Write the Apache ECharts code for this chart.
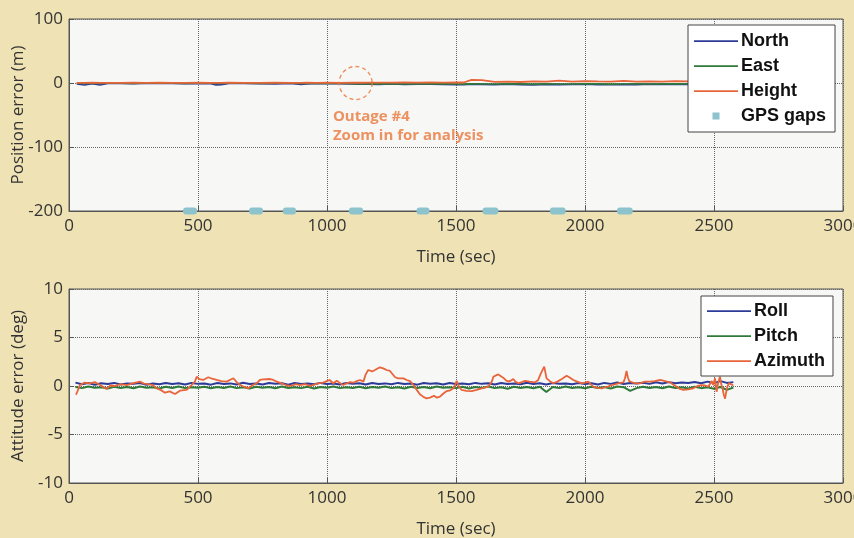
<!DOCTYPE html>
<html>
<head>
<meta charset="utf-8">
<title>Position and attitude error</title>
<script src="https://cdn.jsdelivr.net/npm/echarts@6/dist/echarts.min.js"></script>
<style>
  html, body { margin: 0; padding: 0; background: #efe3b5; }
  #chart { width: 854px; height: 538px; }
</style>
</head>
<body>
<div id="chart"></div>
<script>
// ---- Position error (m) ----
const tPos = [30, 60, 90, 120, 150, 200, 250, 300, 350, 400,
  450, 500, 550, 570, 590, 620, 680, 740, 800, 860,
  900, 920, 960, 1000, 1050, 1100, 1130, 1160, 1200, 1250,
  1300, 1350, 1400, 1450, 1500, 1530, 1560, 1600, 1650, 1700,
  1750, 1800, 1850, 1900, 1950, 2000, 2050, 2100, 2150, 2200,
  2250, 2300, 2350, 2400, 2450, 2500, 2550, 2580];
const north = [-1.5, -3.2, -1.0, -3.0, -0.8, -0.6, -1.0, -0.5, -0.8, -0.6,
  -0.9, -0.7, -1.2, -3.0, -2.6, -0.8, -0.6, -0.9, -1.4, -0.7,
  -2.2, -1.5, -0.8, -0.9, -1.1, -1.5, -2.0, -1.8, -2.2, -1.6,
  -2.4, -2.0, -1.7, -2.2, -2.8, -2.5, -1.8, -2.2, -2.8, -2.0,
  -2.5, -2.9, -2.2, -2.6, -2.4, -1.9, -2.6, -2.8, -2.1, -2.5,
  -2.0, -2.4, -1.9, -2.2, -1.8, -2.1, -1.7, -1.9];
const east = [-0.4, -0.6, -0.3, -0.7, -0.5, -0.4, -0.6, -0.3, -0.5, -0.4,
  -0.6, -0.5, -0.4, -0.7, -0.6, -0.5, -0.4, -0.6, -0.5, -0.4,
  -0.7, -0.6, -0.5, -0.6, -0.8, -1.0, -1.6, -1.4, -1.2, -1.5,
  -1.3, -1.6, -1.4, -1.2, -1.5, -1.7, -1.3, -1.5, -1.6, -1.2,
  -1.4, -1.7, -1.3, -1.5, -1.6, -1.2, -1.4, -1.8, -1.5, -1.3,
  -1.6, -1.4, -1.2, -1.5, -1.3, -1.6, -1.2, -1.4];
const height = [0.3, 0.2, 0.4, 0.1, 0.3, 0.2, 0.4, 0.3, 0.5, 0.2,
  0.3, 0.4, 0.2, 0.3, 0.1, 0.4, 0.3, 0.2, 0.5, 0.3,
  0.2, 0.4, 0.3, 0.5, 0.3, 0.6, 0.4, 0.5, 0.7, 0.5,
  0.8, 0.6, 0.9, 0.7, 1.0, 0.8, 4.8, 4.5, 1.8, 2.2,
  1.6, 2.4, 2.0, 3.6, 2.2, 3.0, 2.4, 2.0, 3.2, 2.2,
  2.6, 2.0, 2.8, 2.4, 3.4, 2.6, 3.0, 2.8];

// GPS outage intervals (sec), drawn on the -200 m line
const gapStart = [442, 698, 829, 1085, 1347, 1603, 1864, 2124];
const gapEnd   = [496, 752, 880, 1140, 1397, 1664, 1925, 2185];
const gapLevel = -200;

// Outage #4 marker (time, error) and its note
const outageCenter = [1111, 0];
const outageNoteAt = [1023, -68];

// ---- Attitude error (deg) ----
const tAtt = [25, 50, 75, 100, 125, 150, 175, 200, 225, 250,
  275, 300, 325, 350, 375, 400, 425, 450, 475, 500,
  525, 550, 575, 600, 625, 650, 675, 700, 725, 750,
  775, 800, 825, 850, 875, 900, 925, 950, 975, 1000,
  1025, 1050, 1075, 1100, 1125, 1150, 1175, 1200, 1225, 1250,
  1275, 1300, 1325, 1350, 1375, 1400, 1425, 1450, 1475, 1500,
  1525, 1550, 1575, 1600, 1625, 1650, 1675, 1700, 1725, 1750,
  1775, 1800, 1825, 1850, 1875, 1900, 1925, 1950, 1975, 2000,
  2025, 2050, 2075, 2100, 2125, 2150, 2175, 2200, 2225, 2250,
  2275, 2300, 2325, 2350, 2375, 2400, 2425, 2450, 2475, 2500,
  2525, 2550, 2575];
const roll = [0.35, 0.18, 0.30, 0.12, 0.28, 0.20, 0.32, 0.15, 0.26, 0.22,
  0.30, 0.12, 0.25, 0.18, 0.30, 0.20, 0.28, 0.15, 0.32, 0.22,
  0.26, 0.14, 0.30, 0.20, 0.27, 0.16, 0.33, 0.20, 0.25, 0.15,
  0.30, 0.22, 0.28, 0.14, 0.30, 0.20, 0.26, 0.18, 0.32, 0.20,
  0.25, 0.16, 0.30, 0.22, 0.28, 0.15, 0.30, 0.20, 0.27, 0.18,
  0.32, 0.20, 0.26, 0.14, 0.30, 0.22, 0.28, 0.16, 0.30, 0.20,
  0.25, 0.18, 0.32, 0.22, 0.28, 0.15, 0.30, 0.20, 0.26, 0.18,
  0.33, 0.20, 0.28, 0.16, 0.30, 0.22, 0.26, 0.18, 0.30, 0.20,
  0.28, 0.15, 0.32, 0.22, 0.36, 0.20, 0.30, 0.25, 0.34, 0.22,
  0.38, 0.26, 0.40, 0.28, 0.36, 0.30, 0.42, 0.28, 0.45, 0.30,
  0.50, 0.32, 0.40];
const pitch = [-0.10, -0.22, -0.05, -0.18, -0.12, -0.25, -0.08, -0.20, -0.10, -0.24,
  -0.06, -0.18, -0.12, -0.26, -0.08, -0.20, -0.05, -0.22, -0.12, -0.18,
  -0.08, -0.24, -0.10, -0.20, -0.06, -0.22, -0.12, -0.26, -0.08, -0.18,
  -0.10, -0.24, -0.06, -0.20, -0.12, -0.22, -0.08, -0.26, -0.10, -0.18,
  -0.06, -0.22, -0.12, -0.20, -0.08, -0.24, -0.10, -0.18, -0.06, -0.22,
  -0.12, -0.26, -0.08, -0.20, -0.10, -0.24, -0.06, -0.18, -0.12, -0.22,
  -0.08, -0.25, -0.10, -0.20, -0.06, -0.22, -0.12, -0.28, -0.08, -0.20,
  -0.10, -0.24, -0.08, -0.62, -0.10, -0.22, -0.06, -0.20, -0.12, -0.24,
  -0.08, -0.20, -0.10, -0.26, -0.06, -0.12, -0.50, -0.22, -0.08, -0.20,
  -0.10, -0.24, -0.06, -0.20, -0.12, -0.26, -0.08, -0.22, -0.14, -0.28,
  -0.10, -0.40, -0.15];
const tAzimuth = [27, 43, 60, 81, 100, 120, 146, 160, 178, 200,
  224, 250, 275, 290, 307, 325, 340, 355, 372, 390,
  411, 430, 456, 475, 488, 495, 505, 520, 540, 555,
  572, 590, 611, 625, 637, 650, 663, 680, 695, 710,
  727, 740, 753, 779, 792, 805, 824, 840, 857, 869,
  880, 895, 915, 934, 950, 966, 985, 999, 1010, 1024,
  1038, 1050, 1063, 1076, 1090, 1102, 1115, 1128, 1141, 1150,
  1160, 1175, 1186, 1205, 1218, 1231, 1244, 1264, 1276, 1296,
  1309, 1322, 1335, 1348, 1360, 1375, 1386, 1399, 1415, 1426,
  1438, 1450, 1464, 1478, 1490, 1496, 1503, 1510, 1522, 1540,
  1561, 1580, 1600, 1625, 1638, 1645, 1655, 1664, 1674, 1683,
  1693, 1703, 1712, 1722, 1730, 1741, 1755, 1767, 1785, 1806,
  1818, 1829, 1842, 1851, 1864, 1877, 1893, 1910, 1920, 1929,
  1942, 1955, 1970, 1987, 2000, 2013, 2022, 2032, 2048, 2065,
  2078, 2090, 2103, 2116, 2132, 2149, 2155, 2161, 2166, 2171,
  2185, 2200, 2215, 2233, 2252, 2270, 2291, 2310, 2329, 2342,
  2355, 2368, 2381, 2400, 2420, 2436, 2452, 2465, 2478, 2491,
  2497, 2504, 2510, 2516, 2523, 2528, 2533, 2538, 2543, 2548,
  2552, 2558, 2565, 2575];
const azimuth = [-0.9, 0.1, 0.35, 0.28, 0.4, 0.1, -0.3, 0.05, 0.0, 0.2,
  0.1, 0.3, 0.45, 0.25, 0.2, 0.1, -0.24, -0.4, -0.69, -0.55,
  -0.82, -0.48, -0.4, 0.1, 0.45, 0.96, 0.7, 0.62, 0.9, 0.75,
  0.62, 0.5, 0.45, 0.65, 0.8, 0.4, 0.1, -0.1, -0.24, 0.05,
  0.28, 0.62, 0.69, 0.72, 0.62, 0.45, 0.28, 0.1, 0.0, 0.1,
  0.2, 0.1, 0.2, 0.0, 0.15, 0.28, 0.35, 0.5, 0.62, 0.28,
  0.55, 0.3, 0.1, 0.28, 0.4, 0.34, 0.5, 0.62, 0.45, 1.2,
  1.65, 1.5, 1.65, 1.93, 1.82, 1.65, 1.55, 0.9, 0.79, 0.79,
  0.62, 0.5, 0.1, -0.4, -0.85, -1.15, -1.27, -1.2, -1.0, -1.2,
  -1.1, -0.8, -0.52, -0.45, -0.24, 0.1, 0.52, 0.0, -0.41, -0.5,
  -0.52, -0.4, -0.24, -0.07, 0.4, 0.96, 1.1, 1.2, 1.0, 0.86,
  0.6, 0.45, 0.55, 0.72, 0.45, 0.28, 0.4, 0.52, 0.45, 0.38,
  0.6, 1.31, 2.0, 0.79, 0.5, 0.28, 0.45, 0.72, 0.9, 1.06,
  0.85, 0.62, 0.45, 0.28, 0.35, 0.45, 0.2, -0.07, -0.2, -0.24,
  -0.1, -0.07, 0.1, 0.17, 0.3, 0.38, 0.8, 1.55, 0.9, 0.52,
  0.35, 0.28, 0.3, 0.45, 0.45, 0.5, 0.62, 0.5, 0.38, 0.15,
  -0.07, -0.3, -0.41, -0.35, -0.24, 0.0, 0.1, 0.05, -0.07, 0.52,
  0.1, 0.79, -0.59, 0.3, 0.96, 0.2, -0.24, -0.9, -1.3, -0.5,
  -0.07, 0.3, 0.1, 0.05];

// ---- chart styling ----
const BLUE = '#2c3a98';
const GREEN = '#2f7a38';
const ORANGE = '#e8643a';
const GAP_COLOR = '#8cc3cc';
const NOTE_COLOR = '#e8773a';
const TICK_FONT = '"Open Sans", "Noto Sans", sans-serif';
const LEGEND_FONT = '"Liberation Sans", Arial, sans-serif';

const pairs = (xs, ys) => xs.map((x, i) => [x, ys[i]]);

const lineIcon = 'path://M0,0M44,14M0,6.3L44,6.3L44,7.9L0,7.9Z';
const squareIcon = 'path://M0,0M44,14M18.5,3.5L25.5,3.5L25.5,10.5L18.5,10.5Z';

function timeAxis(gridIndex) {
  return {
    type: 'value', gridIndex, min: 0, max: 3000, interval: 500,
    name: 'Time (sec)', nameLocation: 'middle', nameGap: 38, nameMoveOverlap: false,
    nameTextStyle: { fontFamily: TICK_FONT, fontSize: 17, color: '#333' },
    axisLine: { show: true, onZero: false, lineStyle: { color: '#555', width: 1 } },
    axisTick: { show: true, inside: true, length: 5, lineStyle: { color: '#555' } },
    axisLabel: { fontFamily: TICK_FONT, fontSize: 17, color: '#333', margin: 7, formatter: v => String(v) },
    splitLine: { show: true, lineStyle: { type: 'dotted', color: '#666', width: 1 } }
  };
}

function errorAxis(gridIndex, name, min, max, interval) {
  return {
    type: 'value', gridIndex, min, max, interval,
    name, nameLocation: 'middle', nameGap: 42, nameRotate: 90, nameMoveOverlap: false,
    nameTextStyle: { fontFamily: TICK_FONT, fontSize: 17, color: '#333' },
    axisLine: { show: true, onZero: false, lineStyle: { color: '#555', width: 1 } },
    axisTick: { show: true, inside: true, length: 5, lineStyle: { color: '#555' } },
    axisLabel: { fontFamily: TICK_FONT, fontSize: 17, color: '#333', margin: 6, formatter: v => String(v) },
    splitLine: { show: true, lineStyle: { type: 'dotted', color: '#666', width: 1 } }
  };
}

function legendBox(left, top, names, icons, padding) {
  return {
    orient: 'vertical', left, top, padding,
    itemWidth: 44, itemHeight: 14, itemGap: 7,
    backgroundColor: '#ffffff', borderColor: '#444', borderWidth: 1, borderRadius: 0,
    textStyle: { fontFamily: LEGEND_FONT, fontWeight: 'bold', fontSize: 18, color: '#111', lineHeight: 18, padding: [0, 0, 0, -2] },
    data: names.map((n, i) => ({ name: n, icon: icons[i] })),
    selectedMode: false
  };
}

function plotGrid(top, height) {
  return {
    left: 69, top, width: 774, height,
    containLabel: false, outerBoundsMode: 'none',
    show: true, backgroundColor: '#f7f7f5', borderColor: '#555', borderWidth: 1
  };
}

const chart = echarts.init(document.getElementById('chart'), null, { renderer: 'canvas' });

const option = {
  animation: false,
  backgroundColor: '#efe3b5',
  grid: [plotGrid(19, 192), plotGrid(289, 194)],
  xAxis: [timeAxis(0), timeAxis(1)],
  yAxis: [
    errorAxis(0, 'Position error (m)', -200, 100, 100),
    errorAxis(1, 'Attitude error (deg)', -10, 10, 5)
  ],
  legend: [
    legendBox(688, 25, ['North', 'East', 'Height', 'GPS gaps'], [lineIcon, lineIcon, lineIcon, squareIcon], [7, 9, 7, 6]),
    legendBox(701, 296, ['Roll', 'Pitch', 'Azimuth'], [lineIcon, lineIcon, lineIcon], [6, 8, 6, 6])
  ],
  series: [
    {
      name: 'North', type: 'line', xAxisIndex: 0, yAxisIndex: 0, symbol: 'none',
      data: pairs(tPos, north), color: BLUE, lineStyle: { width: 1.6, color: BLUE }
    },
    {
      name: 'East', type: 'line', xAxisIndex: 0, yAxisIndex: 0, symbol: 'none',
      data: pairs(tPos, east), color: GREEN, lineStyle: { width: 1.6, color: GREEN }
    },
    {
      name: 'Height', type: 'line', xAxisIndex: 0, yAxisIndex: 0, symbol: 'none',
      data: pairs(tPos, height), color: ORANGE, lineStyle: { width: 1.8, color: ORANGE }
    },
    {
      name: 'GPS gaps', type: 'custom', xAxisIndex: 0, yAxisIndex: 0, color: GAP_COLOR, z: 5,
      data: gapStart.map((s, i) => [s, gapEnd[i], gapLevel]),
      encode: { x: [0, 1], y: 2 },
      renderItem: (params, api) => {
        const a = api.coord([api.value(0), api.value(2)]);
        const b = api.coord([api.value(1), api.value(2)]);
        return {
          type: 'rect',
          shape: { x: a[0], y: a[1] - 3.5, width: b[0] - a[0], height: 7, r: 3 },
          style: { fill: GAP_COLOR }
        };
      }
    },
    {
      name: 'outage', type: 'scatter', xAxisIndex: 0, yAxisIndex: 0, z: 6,
      data: [
        { value: outageCenter, symbolSize: 33 },
        {
          value: outageNoteAt, symbolSize: 0,
          label: {
            show: true, position: 'right', distance: 0,
            formatter: 'Outage #4\nZoom in for analysis',
            fontFamily: TICK_FONT, fontWeight: 'bold', fontSize: 15, lineHeight: 19, color: NOTE_COLOR
          }
        }
      ],
      itemStyle: { color: 'rgba(0,0,0,0)', borderColor: NOTE_COLOR, borderWidth: 1.4, borderType: [4, 3] },
      emphasis: { disabled: true }
    },
    {
      name: 'Roll', type: 'line', xAxisIndex: 1, yAxisIndex: 1, symbol: 'none',
      data: pairs(tAtt, roll), color: BLUE, lineStyle: { width: 2, color: BLUE }
    },
    {
      name: 'Pitch', type: 'line', xAxisIndex: 1, yAxisIndex: 1, symbol: 'none',
      data: pairs(tAtt, pitch), color: GREEN, lineStyle: { width: 2, color: GREEN }
    },
    {
      name: 'Azimuth', type: 'line', xAxisIndex: 1, yAxisIndex: 1, symbol: 'none',
      data: pairs(tAzimuth, azimuth), color: ORANGE, lineStyle: { width: 1.8, color: ORANGE }
    }
  ]
};

chart.setOption(option);
</script>
</body>
</html>
